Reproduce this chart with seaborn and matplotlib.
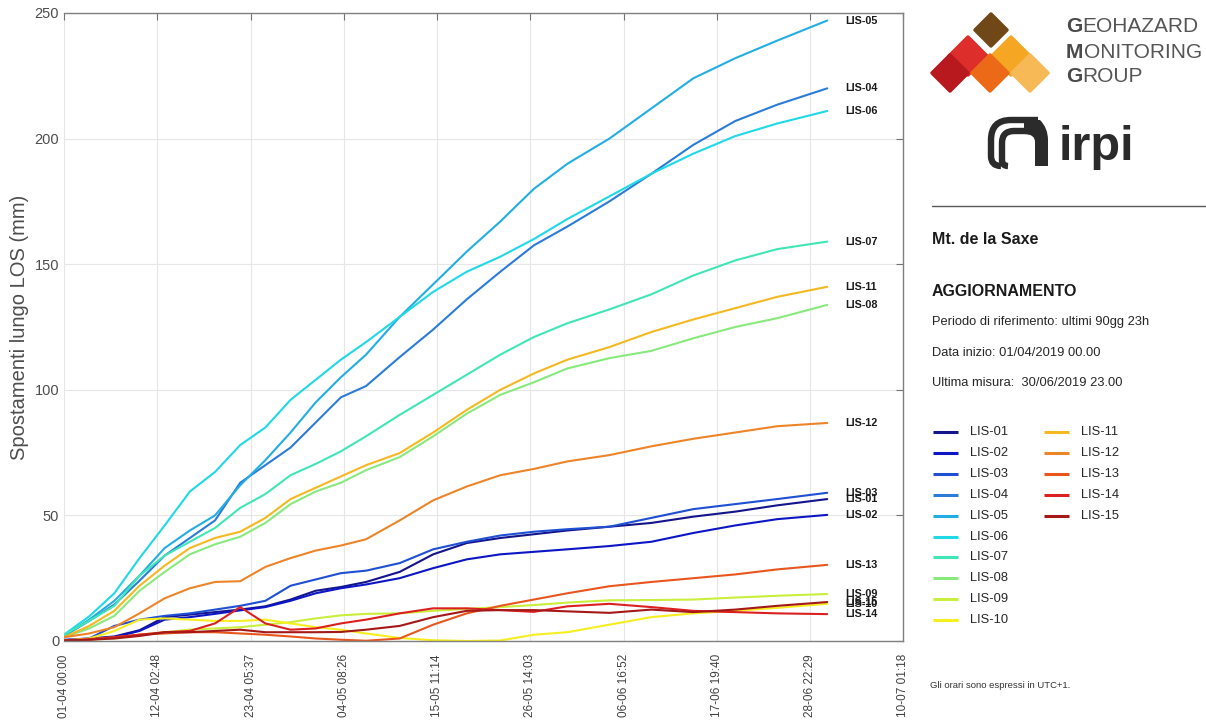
import numpy as np
import pandas as pd
import matplotlib
matplotlib.use("Agg")
import matplotlib.pyplot as plt
import seaborn as sns
from matplotlib.patches import Polygon, PathPatch
from matplotlib.path import Path

# ---------------------------------------------------------------- data
# elapsed days since 01/04/2019 00:00
days = [0, 3, 6, 9, 12, 15, 18, 21, 24, 27, 30, 33, 36, 40, 44, 48, 52, 56,
        60, 65, 70, 75, 80, 85, 90.96]

lis_01 = [0.3, 1, 1.8, 4.3, 9.5, 10.5, 11.5, 12.5, 13.8, 16.5, 20, 21.5, 23.5,
          27.5, 34.5, 39, 41, 42.5, 44, 45.5, 47, 49.5, 51.5, 54, 56.5]
lis_02 = [0.3, 0.8, 1.5, 4, 8.5, 9.5, 10.8, 12.2, 13.5, 16, 19, 21, 22.5, 25,
          29, 32.5, 34.5, 35.5, 36.5, 37.8, 39.5, 43, 46, 48.5, 50.2]
lis_03 = [0.5, 1, 6, 8.5, 10, 11, 12.5, 14, 16, 22, 24.5, 27, 28, 31, 36.5,
          39.5, 42, 43.5, 44.5, 45.5, 49, 52.5, 54.5, 56.5, 59]
lis_04 = [2, 8, 14.5, 24, 34, 41, 48, 63, 70, 77, 87, 97, 101.5, 113, 124, 136,
          147, 157.5, 165, 175, 186, 197.5, 207, 213.5, 220]
lis_05 = [2, 8.5, 16, 26, 37, 44, 50, 62, 72, 83, 95, 105, 114, 129, 142, 155,
          167, 180, 190, 200, 212, 224, 232, 239, 247]
lis_06 = [2.5, 9.8, 19, 33, 46, 59.5, 67.3, 78, 85, 96, 104, 112, 119, 129, 139,
          147, 153, 160, 168, 177, 186, 194, 201, 206, 211]
lis_07 = [2.5, 8, 14, 26, 34, 39.5, 45, 53, 58.5, 66, 70.5, 75.5, 81.5, 90, 98,
          106, 114, 121, 126.5, 132, 138, 145.5, 151.5, 156, 159]
lis_08 = [1.5, 5, 10, 20, 27.5, 34.5, 38.5, 41.5, 47, 54.5, 59.5, 63, 68, 73.2,
          81.5, 90.5, 98, 103, 108.5, 112.6, 115.5, 120.5, 125, 128.5, 133.8]
lis_09 = [0.2, 0.5, 1, 2.5, 3.5, 4.5, 5, 5.5, 6.5, 7.5, 9, 10.2, 10.8, 11, 12,
          12.8, 13.5, 14.3, 15.3, 16.2, 16.3, 16.5, 17.3, 18, 18.7]
lis_10 = [0.2, 1, 4, 8.5, 9, 8.5, 8, 8, 8.5, 7, 5.5, 4.5, 3, 1.2, 0.3, 0, 0.2,
          2.5, 3.5, 6.5, 9.5, 11, 12, 13.2, 14.8]
lis_11 = [1.5, 6, 12, 22, 30, 37, 41, 43.5, 49, 56.5, 61, 65.5, 70, 74.8, 83,
          92, 100, 106.5, 112, 117, 123, 128, 132.5, 137, 141]
lis_12 = [1.5, 3, 5.5, 11, 17, 21, 23.5, 23.8, 29.5, 33, 36, 38, 40.5, 48, 56,
          61.5, 66, 68.5, 71.5, 74, 77.5, 80.5, 83, 85.5, 86.8]
lis_13 = [0.2, 0.8, 1.5, 2.5, 3, 3.5, 3.5, 3, 2.5, 1.8, 1, 0.5, 0.1, 1, 6.5, 11,
          14, 16.5, 19, 21.8, 23.5, 25, 26.5, 28.5, 30.3]
lis_14 = [0.2, 0.5, 1.5, 2.5, 3.5, 4, 7, 13.5, 7, 4.5, 5, 7, 8.5, 11, 13, 13,
          12.3, 11.6, 13.8, 14.8, 13.5, 12, 11.5, 11, 10.7]
lis_15 = [0.2, 0.5, 1, 2, 3.5, 3.5, 4, 4.5, 3.5, 3.5, 3.5, 3.6, 4.5, 6, 9.5, 12,
          12.3, 12.3, 11.8, 11.2, 12.5, 11.5, 12.5, 14, 15.5]

sensors = ["LIS-01", "LIS-02", "LIS-03", "LIS-04", "LIS-05", "LIS-06",
           "LIS-07", "LIS-08", "LIS-09", "LIS-10", "LIS-11", "LIS-12",
           "LIS-13", "LIS-14", "LIS-15"]
series = [lis_01, lis_02, lis_03, lis_04, lis_05, lis_06, lis_07, lis_08,
          lis_09, lis_10, lis_11, lis_12, lis_13, lis_14, lis_15]

x_tick_labels = ["01-04 00:00", "12-04 02:48", "23-04 05:37", "04-05 08:26",
                 "15-05 11:14", "26-05 14:03", "06-06 16:52", "17-06 19:40",
                 "28-06 22:29", "10-07 01:18"]
y_ticks = [0, 50, 100, 150, 200, 250]

info_lines = ["Periodo di riferimento: ultimi 90gg 23h",
              "Data inizio: 01/04/2019 00.00",
              "Ultima misura:  30/06/2019 23.00"]

# jet-like palette, one colour per sensor
colors = ["#14148c", "#0c16c4", "#1f4fd2", "#2a7cda", "#22aee2", "#1fd9e6",
          "#40e6b6", "#88e97c", "#c9ee3c", "#f7ee20", "#f4b820", "#ee8428",
          "#e8561e", "#dc2020", "#a41818"]
palette = dict(zip(sensors, colors))

df = pd.concat(
    [pd.DataFrame({"giorno": days, "mm": vals, "sensore": name})
     for name, vals in zip(sensors, series)],
    ignore_index=True)

# ---------------------------------------------------------------- style
sns.set_style("white")
plt.rcParams["font.family"] = ["Liberation Sans", "DejaVu Sans"]

W, H = 1206, 724
fig = plt.figure(figsize=(W / 100, H / 100), dpi=100)

x_left, x_right, y_top, y_bot = 64, 903.5, 13, 641
ax = fig.add_axes([x_left / W, (H - y_bot) / H,
                   (x_right - x_left) / W, (y_bot - y_top) / H])

sns.lineplot(data=df, x="giorno", y="mm", hue="sensore", palette=palette,
             estimator=None, sort=False, linewidth=1.5, legend=False, ax=ax)

x_end = 100.0535
ax.set_xlim(0, x_end)
ax.set_ylim(0, 250)
ax.set_xticks(np.linspace(0, x_end, len(x_tick_labels)))
ax.set_xticklabels(x_tick_labels, rotation=90, fontsize=8.5, color="0.25")
ax.set_yticks(y_ticks)
ax.set_yticklabels([str(v) for v in y_ticks], fontsize=10.5, color="0.3")
ax.set_xlabel("")
ax.set_ylabel("Spostamenti lungo LOS (mm)", fontsize=14.5, color="0.3")
ax.yaxis.set_label_coords(-(x_left - 29) / (x_right - x_left), 0.5)
ax.tick_params(direction="in", length=5, width=0.8, color="0.45",
               top=True, right=True)
ax.tick_params(axis="x", pad=9.5)
ax.tick_params(axis="y", pad=3.5)
ax.grid(True, color="0.9", linewidth=0.8)
ax.set_axisbelow(True)
for side in ("top", "right", "bottom"):
    ax.spines[side].set_color("0.5")
    ax.spines[side].set_linewidth(1.0)
ax.spines["left"].set_visible(False)

# sensor names at the end of each curve
for name, vals in zip(sensors, series):
    ax.text(days[-1] + 2.1, vals[-1], name, fontsize=7.8, fontweight="bold",
            va="center", ha="left", color="0.1", clip_on=False)

# ---------------------------------------------------------------- side panel
ov = fig.add_axes([0, 0, 1, 1], zorder=-1)
ov.set_xlim(0, W)
ov.set_ylim(H, 0)
ov.axis("off")


def diamond(cx, cy, r, color):
    ov.add_patch(Polygon([(cx - r, cy), (cx, cy - r), (cx + r, cy), (cx, cy + r)],
                         closed=True, facecolor=color, edgecolor=color,
                         linewidth=2.5, joinstyle="round"))


# group logo: overlapping rounded diamonds
diamond(968, 56, 19, "#de2e2c")
diamond(950, 73, 18, "#b8191f")
diamond(1011, 56, 19, "#f5a623")
diamond(1030, 73, 18, "#f7b955")
diamond(990, 73, 18, "#ec6a17")
diamond(991, 30, 16, "#704716")

renderer = fig.canvas.get_renderer()
inv = ov.transData.inverted()
for cy, word in [(27, "GEOHAZARD"), (52, "MONITORING"), (77, "GROUP")]:
    t = ov.text(1066, cy, word[0], fontsize=15, fontweight="bold",
                color="#4a4a4a", va="center", ha="left")
    x1 = inv.transform(t.get_window_extent(renderer).get_points())[1, 0]
    ov.text(x1 + 0.5, cy, word[1:], fontsize=15, color="#555555",
            va="center", ha="left")


# institute logo: nested rounded strokes and lettering
def bracket(x0, x1, ytop, ybot, rad, lw):
    verts = [(x1, ytop), (x0 + rad, ytop), (x0, ytop), (x0, ytop + rad),
             (x0, ybot - rad * 0.5), (x0, ybot), (x0 + rad * 0.5, ybot)]
    codes = [Path.MOVETO, Path.LINETO, Path.CURVE3, Path.CURVE3,
             Path.LINETO, Path.CURVE3, Path.CURVE3]
    ov.add_patch(PathPatch(Path(verts, codes), facecolor="none",
                           edgecolor="#2b2b2b", linewidth=lw,
                           capstyle="butt", joinstyle="round"))


bracket(991, 1038, 120, 166, 20, 4.6)
bracket(1002, 1030, 131, 166, 12, 4.6)
ov.add_patch(PathPatch(Path([(1024, 120), (1040, 120), (1048, 128),
                             (1048, 140), (1048, 166), (1035, 166),
                             (1035, 142), (1035, 134), (1024, 134),
                             (1024, 120)],
                            [Path.MOVETO, Path.LINETO, Path.CURVE3,
                             Path.CURVE3, Path.LINETO, Path.LINETO,
                             Path.LINETO, Path.CURVE3, Path.CURVE3,
                             Path.CLOSEPOLY]),
                       facecolor="#2b2b2b", edgecolor="none"))
ov.text(1059, 160, "irpi", fontsize=35, fontweight="bold", color="#2b2b2b",
        va="baseline", ha="left")

ov.plot([932, 1206], [206, 206], color="0.35", linewidth=1.0)

ov.text(932, 240, "Mt. de la Saxe", fontsize=11.5, fontweight="bold",
        color="0.1", va="center", ha="left")
ov.text(932, 291, "AGGIORNAMENTO", fontsize=11.5, fontweight="bold",
        color="0.1", va="center", ha="left")
for i, line in enumerate(info_lines):
    ov.text(932, 322 + i * 30.5, line, fontsize=9.3, color="0.15",
            va="center", ha="left")

# legend in two columns
for i, (name, col) in enumerate(zip(sensors, colors)):
    column, row = divmod(i, 10)
    lx = 933 + column * 111
    ly = 432 + row * 20.9
    ov.plot([lx, lx + 25], [ly, ly], color=col, linewidth=2.2,
            solid_capstyle="butt")
    ov.text(lx + 37, ly, name, fontsize=9.3, color="0.15", va="center",
            ha="left")

ov.text(930, 685, "Gli orari sono espressi in UTC+1.", fontsize=6.8,
        color="0.2", va="center", ha="left")

fig.savefig("out.png", dpi=100, facecolor="white")
